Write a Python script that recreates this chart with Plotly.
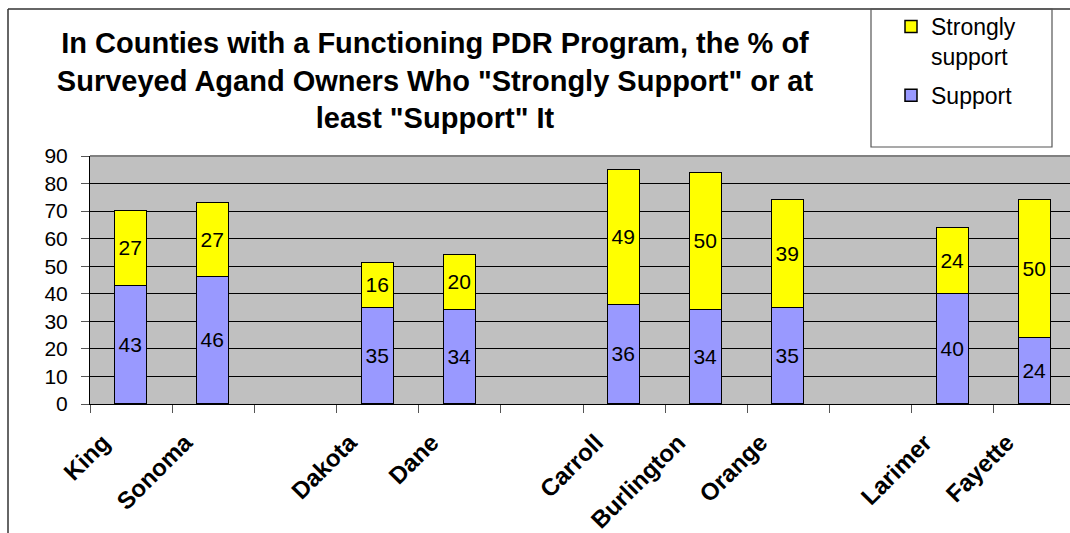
import plotly.graph_objects as go

categories = ["King", "Sonoma", " ", "Dakota", "Dane", "  ", "Carroll", "Burlington", "Orange", "   ", "Larimer", "Fayette"]
support = [43, 46, None, 35, 34, None, 36, 34, 35, None, 40, 24]
strongly_support = [27, 27, None, 16, 20, None, 49, 50, 39, None, 24, 50]
y_ticks = [0, 10, 20, 30, 40, 50, 60, 70, 80, 90]

FONT = "Arial, Liberation Sans, sans-serif"

# plot area geometry (pixels)
W, H = 1070, 533
PL, PR, PT, PB = 90, 1070, 156, 404


def px_x(px):
    return (px - PL) / (PR - PL)


def px_y(py):
    return (PB - py) / (PB - PT)


fig = go.Figure()
fig.add_trace(go.Bar(
    x=categories, y=support, name="Support", legendgroup="s", legendrank=2,
    marker=dict(color="#9999FF", line=dict(color="black", width=1.5)),
    text=[("" if v is None else str(v)) for v in support],
    textposition="inside", insidetextanchor="middle", textangle=0,
    textfont=dict(family=FONT, size=21, color="black"),
    width=0.39, hoverinfo="x+y",
))
fig.add_trace(go.Bar(
    x=categories, y=strongly_support, name="Strongly<br>support", legendgroup="ss", legendrank=1,
    marker=dict(color="#FFFF00", line=dict(color="black", width=1.5)),
    text=[("" if v is None else str(v)) for v in strongly_support],
    textposition="inside", insidetextanchor="middle", textangle=0,
    textfont=dict(family=FONT, size=21, color="black"),
    width=0.39, hoverinfo="x+y",
))

x_end = -0.5 + (PR - PL) / 82.17

fig.update_layout(
    width=W, height=H,
    barmode="stack",
    plot_bgcolor="#C0C0C0",
    paper_bgcolor="white",
    margin=dict(l=PL, r=W - PR, t=PT, b=H - PB, pad=0),
    font=dict(family=FONT, color="black"),
    title=dict(
        text="In Counties with a Functioning PDR Program, the % of<br>Surveyed Agand Owners Who \"Strongly Support\" or at<br>least \"Support\" It",
        font=dict(family=FONT, size=29, color="black", weight="bold"),
        x=435 / W, xanchor="center", xref="container",
        y=1 - 53 / H, yanchor="top", yref="container",
    ),
    legend=dict(
        traceorder="grouped",
        x=px_x(891), xanchor="left", y=px_y(5), yanchor="top",
        font=dict(family=FONT, size=23, color="black"),
        bgcolor="rgba(0,0,0,0)", borderwidth=0,
        valign="top", tracegroupgap=6,
    ),
    xaxis=dict(
        type="category",
        range=[-0.5, x_end],
        tickson="boundaries",
        ticks="outside", ticklen=8, tickcolor="#555555",
        tickangle=-45,
        tickfont=dict(family=FONT, size=24, color="black", weight="bold"),
        ticklabelshift=-28, ticklabelstandoff=14,
        showline=True, linecolor="black", linewidth=1,
        showgrid=False,
    ),
    yaxis=dict(
        range=[0, 90],
        tickvals=y_ticks,
        ticks="outside", ticklen=8, tickcolor="#555555",
        tickfont=dict(family=FONT, size=21, color="black"),
        ticklabelstandoff=9,
        showline=True, linecolor="black", linewidth=1,
        showgrid=True, gridcolor="black", gridwidth=1,
        zeroline=False,
    ),
    showlegend=True,
    bargap=0,
)

# top plot-area edge (grey), outer chart border and legend box
fig.add_shape(type="line", xref="paper", yref="paper", x0=0, x1=1, y0=1, y1=1,
              line=dict(color="#808080", width=2), layer="above")
fig.add_shape(type="line", xref="paper", yref="paper",
              x0=px_x(8), x1=px_x(8), y0=px_y(9), y1=px_y(540),
              line=dict(color="#333333", width=1.5))
fig.add_shape(type="line", xref="paper", yref="paper",
              x0=px_x(8), x1=px_x(1075), y0=px_y(9), y1=px_y(9),
              line=dict(color="#333333", width=1.5))
fig.add_shape(type="rect", xref="paper", yref="paper",
              x0=px_x(871), x1=px_x(1052), y0=px_y(9), y1=px_y(147),
              line=dict(color="#555555", width=1.2), fillcolor="rgba(0,0,0,0)")

fig.write_html("out.html",
               config={"displayModeBar": False},
               post_script="document.body.style.margin='0';document.body.style.padding='0';")
